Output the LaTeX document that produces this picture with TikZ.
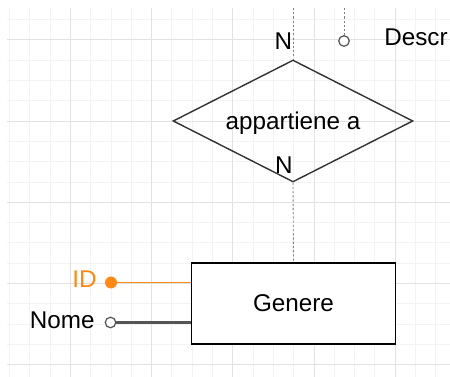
\documentclass[tikz,border=0pt]{standalone}
\usepackage{fontspec}
\setmainfont{Liberation Sans}
\usetikzlibrary{shapes.geometric}
\definecolor{arancio}{RGB}{255,137,20}
\definecolor{griglia}{RGB}{243,243,243}
\definecolor{grigliaM}{RGB}{226,226,226}
\definecolor{linea}{RGB}{85,85,85}
\begin{document}
\begin{tikzpicture}[x=0.02cm,y=-0.02cm,font=\fontsize{13.8}{16}\selectfont,
  tratt/.style={draw=gray,dash pattern=on 1.2pt off 1.2pt,line width=0.5pt},
  vuoto/.style={circle,draw=linea,fill=white,line width=0.7pt,inner sep=0pt,minimum size=0.21cm},
  pieno/.style={circle,fill=arancio,inner sep=0pt,minimum size=0.24cm}]
\useasboundingbox (0,0) rectangle (450,377);
\begin{scope}
\clip (7,8) rectangle (450,377);
\foreach \i in {0,...,21} \draw[griglia,line width=0.57pt] ({9.5+20.3*\i},8) -- ({9.5+20.3*\i},377);
\foreach \i in {0,...,17} \draw[griglia,line width=0.57pt] (7,{19.7+20.3*\i}) -- (450,{19.7+20.3*\i});
\foreach \i in {0,...,4} \draw[grigliaM,line width=0.57pt] ({70.4+81.2*\i},8) -- ({70.4+81.2*\i},377);
\foreach \i in {0,...,4} \draw[grigliaM,line width=0.57pt] (7,{40+81.2*\i}) -- (450,{40+81.2*\i});
\end{scope}
\begin{scope}
\node (APP) at (293,121) [diamond,draw=black!80,line width=0.8pt,aspect=2,inner sep=0pt,minimum width=4.8cm,minimum height=2.44cm] {};
\node (APPT) at (293,130) [anchor=base] {appartiene a};
\node (GEN) at (293.5,303.5) [rectangle,draw,fill=white,line width=1pt,minimum width=4.08cm,minimum height=1.62cm] {Genere};
\node (N1) at (283.5,50) [anchor=base,inner sep=0pt] {N};
\node (N2) at (284,174) [anchor=base,inner sep=0pt] {N};
\coordinate (TOPA) at (293,8);
\coordinate (TOPD) at (344,8);
\node (DESCR) at (344,41) [vuoto] {};
\node (DESCRT) at (384,46) [anchor=base west,inner sep=0pt] {Descr};
\node (ID) at (111,282.5) [pieno] {};
\node (IDT) at (97,288) [anchor=base east,inner sep=0pt,text=arancio] {ID};
\node (NOME) at (110.5,322.5) [vuoto] {};
\node (NOMET) at (95,329) [anchor=base east,inner sep=0pt] {Nome};
\draw[tratt] (TOPA) -- (APP.north);
\draw[tratt] (APP.south) -- (GEN.north);
\draw[tratt] (TOPD) -- (DESCR);
\draw[arancio,line width=0.6pt] (ID) -- (ID -| GEN.west);
\draw[linea,line width=1.3pt] (NOME) -- (NOME -| GEN.west);
\end{scope}
\end{tikzpicture}
\end{document}
